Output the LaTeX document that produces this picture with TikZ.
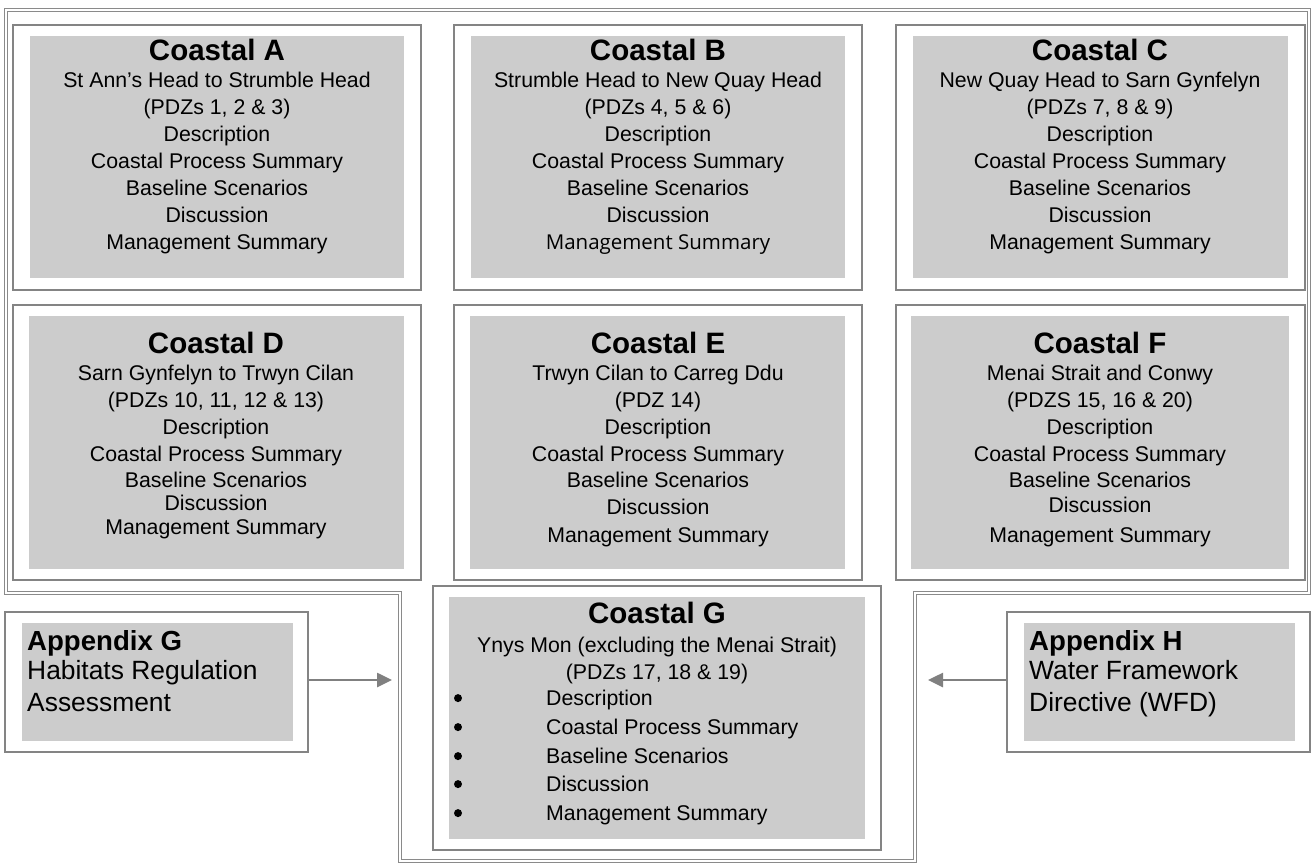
\documentclass[tikz,border=0pt]{standalone}
\usepackage{fontspec}
\setmainfont{Liberation Sans}
\newfontfamily\casualfont{Open Sans}
\usetikzlibrary{arrows.meta,fit}
\definecolor{framegray}{HTML}{848484}
\definecolor{fillgray}{HTML}{CCCCCC}
\definecolor{outergray}{HTML}{8A8A8A}
\definecolor{arrowgray}{HTML}{808080}
\tikzset{
  frm/.style={draw=framegray, line width=2pt, inner sep=0pt, fill=white},
  gbox/.style={fill=fillgray, inner sep=0pt},
  outerline/.style={draw=outergray, line width=1pt, double=white, double distance=2pt},
  ttl/.style={anchor=base, inner sep=0pt, font=\fontsize{29.5}{34}\selectfont\bfseries},
  bod/.style={anchor=base, inner sep=0pt, font=\fontsize{21.3}{27}\selectfont},
  bodl/.style={anchor=base west, inner sep=0pt, font=\fontsize{21.3}{27}\selectfont},
  bul/.style={circle, fill=black, inner sep=0pt, minimum size=8pt},
  apttl/.style={anchor=base west, inner sep=0pt, font=\fontsize{27.6}{31}\selectfont\bfseries},
  apbod/.style={anchor=base west, inner sep=0pt, font=\fontsize{26.4}{31}\selectfont},
  arr/.style={draw=arrowgray, line width=2.6pt, -{Triangle[length=15pt,width=14pt]}},
}
\begin{document}
\begin{tikzpicture}[x=1pt,y=-1pt]
\useasboundingbox (0,0) rectangle (1316,864);
% outer double frame
\draw[outerline] (6,10) -- (1309,10) -- (1309,593) -- (915,593) -- (915,861) -- (400,861) -- (400,593) -- (6,593) -- cycle;

% frames
\node[frm, fit={(13,25) (421,290)}] (fA) {};
\node[frm, fit={(454,25) (862,290)}] (fB) {};
\node[frm, fit={(896,25) (1305,290)}] (fC) {};
\node[frm, fit={(13,305) (421,580)}] (fD) {};
\node[frm, fit={(454,305) (862,580)}] (fE) {};
\node[frm, fit={(896,305) (1305,580)}] (fF) {};
\node[frm, fit={(433,586) (881,850)}] (fG) {};
\node[frm, fit={(5,612) (308,752)}] (fAG) {};
\node[frm, fit={(1007,612) (1310,752)}] (fAH) {};

% grey panels
\node[gbox, fit={(30,36) (404,278)}] (gA) {};
\node[gbox, fit={(471,36) (845,278)}] (gB) {};
\node[gbox, fit={(913,36) (1288,278)}] (gC) {};
\node[gbox, fit={(29,316) (404,569)}] (gD) {};
\node[gbox, fit={(470,316) (845,569)}] (gE) {};
\node[gbox, fit={(911,316) (1289,569)}] (gF) {};
\node[gbox, fit={(449,597) (865,839)}] (gG) {};
\node[gbox, fit={(22,623) (293,741)}] (gAG) {};
\node[gbox, fit={(1024,623) (1295,741)}] (gAH) {};

% Coastal A
\node[ttl] (tA) at (217,60.6) {Coastal A};
\foreach \y/\t [count=\i] in {87.6/{St Ann’s Head to Strumble Head}, 114.6/{(PDZs 1, 2 \& 3)}, 141.6/{Description}, 168.6/{Coastal Process Summary}, 195.6/{Baseline Scenarios}, 222.6/{Discussion}, 249.6/{Management Summary}}
  \node[bod] (lA\i) at (217,\y) {\t};

% Coastal B
\node[ttl] (tB) at (658,60.6) {Coastal B};
\foreach \y/\t [count=\i] in {87.6/{Strumble Head to New Quay Head}, 114.6/{(PDZs 4, 5 \& 6)}, 141.6/{Description}, 168.6/{Coastal Process Summary}, 195.6/{Baseline Scenarios}, 222.6/{Discussion}}
  \node[bod] (lB\i) at (658,\y) {\t};
\node[anchor=base, inner sep=0pt, font=\fontsize{20.5}{27}\casualfont] (lB7) at (658,249.6) {Management Summary};

% Coastal C
\node[ttl] (tC) at (1100,60.6) {Coastal C};
\foreach \y/\t [count=\i] in {87.6/{New Quay Head to Sarn Gynfelyn}, 114.6/{(PDZs 7, 8 \& 9)}, 141.6/{Description}, 168.6/{Coastal Process Summary}, 195.6/{Baseline Scenarios}, 222.6/{Discussion}, 249.6/{Management Summary}}
  \node[bod] (lC\i) at (1100,\y) {\t};

% Coastal D
\node[ttl] (tD) at (216,353.6) {Coastal D};
\foreach \y/\t [count=\i] in {380.6/{Sarn Gynfelyn to Trwyn Cilan}, 407.6/{(PDZs 10, 11, 12 \& 13)}, 434.6/{Description}, 461.6/{Coastal Process Summary}, 487.6/{Baseline Scenarios}, 510.6/{Discussion}, 534.6/{Management Summary}}
  \node[bod] (lD\i) at (216,\y) {\t};

% Coastal E
\node[ttl] (tE) at (658,353.6) {Coastal E};
\foreach \y/\t [count=\i] in {380.6/{Trwyn Cilan to Carreg Ddu}, 407.6/{(PDZ 14)}, 434.6/{Description}, 461.6/{Coastal Process Summary}, 487.6/{Baseline Scenarios}, 514.6/{Discussion}, 542.6/{Management Summary}}
  \node[bod] (lE\i) at (658,\y) {\t};

% Coastal F
\node[ttl] (tF) at (1100,353.6) {Coastal F};
\foreach \y/\t [count=\i] in {380.6/{Menai Strait and Conwy}, 407.6/{(PDZS 15, 16 \& 20)}, 434.6/{Description}, 461.6/{Coastal Process Summary}, 487.6/{Baseline Scenarios}, 512.6/{Discussion}, 542.6/{Management Summary}}
  \node[bod] (lF\i) at (1100,\y) {\t};

% Coastal G
\node[ttl] (tG) at (657,623.6) {Coastal G};
\node[bod] (lG1) at (657,652.6) {Ynys Mon (excluding the Menai Strait)};
\node[bod] (lG2) at (657,679.6) {(PDZs 17, 18 \& 19)};
\foreach \y/\t [count=\i] in {705.6/{Description}, 734.6/{Coastal Process Summary}, 763.6/{Baseline Scenarios}, 791.6/{Discussion}, 820.6/{Management Summary}}{
  \node[bul] (bG\i) at (458,\y-7.5) {};
  \node[bodl] (iG\i) at (546,\y) {\t};
}

% Appendices
\node[apttl] (tAG) at (27,650) {Appendix G};
\node[apbod] (lAG1) at (27,679.5) {Habitats Regulation};
\node[apbod] (lAG2) at (27,711.5) {Assessment};
\node[apttl] (tAH) at (1029,650) {Appendix H};
\node[apbod] (lAH1) at (1029,679.5) {Water Framework};
\node[apbod] (lAH2) at (1029,711.5) {Directive (WFD)};

% arrows
\coordinate (tipG) at (392,680);
\coordinate (tipH) at (928,680);
\draw[arr] (fAG.east |- tipG) -- (tipG);
\draw[arr] (fAH.west |- tipH) -- (tipH);
\end{tikzpicture}
\end{document}
